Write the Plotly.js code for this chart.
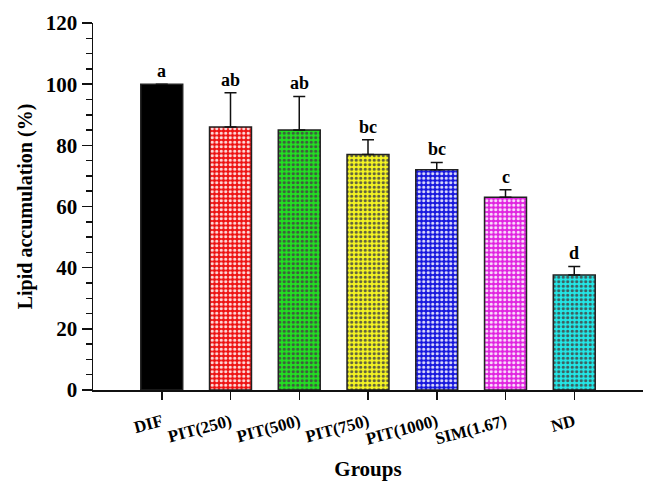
<!DOCTYPE html>
<html>
<head>
<meta charset="utf-8">
<script src="https://cdn.plot.ly/plotly-3.0.1.min.js"></script>
<style>
  body { margin: 0; background: #fff; }
  #chart { width: 657px; height: 492px; }
</style>
</head>
<body>
<div id="chart"></div>
<script>
// Group names, means and upper error (SD)
const groups = ['DIF', 'PIT(250)', 'PIT(500)', 'PIT(750)', 'PIT(1000)', 'SIM(1.67)', 'ND'];
const lipid = [100, 86, 85, 77, 72, 63, 37.6];
const errUp = [0, 11.2, 11, 4.8, 2.4, 2.5, 2.8];
const letters = ['a', 'ab', 'ab', 'bc', 'bc', 'c', 'd'];

// bright fill colour for each bar (dark dots are laid over it)
const fillColors = ['#000000', '#ee1111', '#22e022', '#f5f522', '#1515dd', '#e022e0', '#22e8e8'];

const serif = '"Liberation Serif", "DejaVu Serif", serif';

const trace = {
  type: 'bar',
  x: groups,
  y: lipid,
  width: 0.61,
  marker: {
    color: fillColors,
    line: { color: '#222', width: 1.5 },
    pattern: {
      shape: groups.map((g, i) => i === 0 ? '' : '.'),
      fillmode: 'overlay',
      fgcolor: '#1e1e1e',
      fgopacity: 0.85,
      size: 4.5,
      solidity: 0.4
    }
  },
  error_y: {
    type: 'data',
    symmetric: false,
    array: errUp,
    arrayminus: groups.map(() => 0),
    color: '#111',
    thickness: 1.5,
    width: 6
  },
  hoverinfo: 'skip'
};

// significance letters sit just above each error bar
const annotations = groups.map((g, i) => ({
  x: g,
  y: lipid[i] + errUp[i],
  text: letters[i],
  showarrow: false,
  yanchor: 'bottom',
  yshift: 1,
  font: { family: serif, size: 18, color: '#000', weight: 'bold' }
}));

const layout = {
  width: 657,
  height: 492,
  margin: { l: 93, r: 14, t: 23, b: 102 },
  paper_bgcolor: '#fff',
  plot_bgcolor: '#fff',
  showlegend: false,
  font: { family: serif, color: '#000' },
  xaxis: {
    type: 'category',
    range: [-1, 7],
    showline: true,
    linecolor: '#111',
    linewidth: 1.5,
    ticks: 'outside',
    ticklen: 8,
    tickwidth: 1.5,
    tickcolor: '#111',
    tickangle: -15,
    ticklabelstandoff: 6,
    tickfont: { family: serif, size: 17, weight: 'bold' },
    showgrid: false,
    zeroline: false,
    title: { text: 'Groups', font: { family: serif, size: 21, weight: 'bold' }, standoff: 14 }
  },
  yaxis: {
    range: [0, 120],
    dtick: 20,
    showline: true,
    linecolor: '#111',
    linewidth: 1.5,
    ticks: 'outside',
    ticklen: 10,
    tickwidth: 1.5,
    tickcolor: '#111',
    minor: { dtick: 5, ticks: 'outside', ticklen: 6, tickwidth: 1.5, tickcolor: '#111', showgrid: false },
    tickfont: { family: serif, size: 21, weight: 'bold' },
    showgrid: false,
    zeroline: false,
    title: { text: 'Lipid accumulation (%)', font: { family: serif, size: 20, weight: 'bold' }, standoff: 8 }
  },
  annotations: annotations
};

Plotly.newPlot('chart', [trace], layout, { displayModeBar: false, staticPlot: true });
</script>
</body>
</html>
